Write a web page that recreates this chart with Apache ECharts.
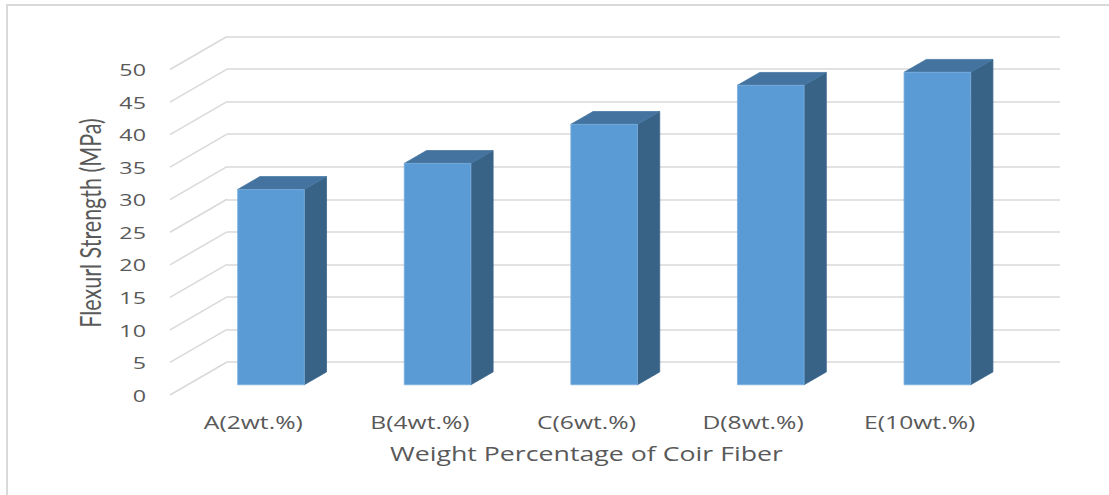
<!DOCTYPE html>
<html>
<head>
<meta charset="utf-8">
<script src="https://cdn.jsdelivr.net/npm/echarts@6/dist/echarts.min.js"></script>
<style>
  html, body { margin: 0; padding: 0; background: #ffffff; }
  #chart { width: 1109px; height: 495px; }
</style>
</head>
<body>
<div id="chart"></div>
<script>
// Flexural strength of coir-fibre composites by fibre content
const categories = ['A(2wt.%)', 'B(4wt.%)', 'C(6wt.%)', 'D(8wt.%)', 'E(10wt.%)'];
const flexuralStrength = [30, 34, 40, 46, 48];
const strengthTicks = [0, 5, 10, 15, 20, 25, 30, 35, 40, 45, 50];
const xAxisTitle = 'Weight Percentage of Coir Fiber';
const yAxisTitle = 'Flexurl Strength (MPa)';

// Oblique projection of the depth axis: back wall -> front edge of the floor
const DEPTH_DX = -57;
const DEPTH_DY = 33;
// depth positions (0 = back wall, 1 = front edge) of the column faces
const BAR_FRONT = 0.69;
const BAR_BACK = 0.30;
const BAR_WIDTH = 0.40;        // share of a category band
const TEXT_STRETCH = 1.37;     // wide lettering
const TEXT_COLOR = '#595959';
const GRID_COLOR = '#d9d9d9';
const FONT = '"Open Sans", "DejaVu Sans", sans-serif';

const GRID = { left: 227, right: 49, top: 36.5, bottom: 133 };

const chart = echarts.init(document.getElementById('chart'), null, { renderer: 'svg' });

// side wall: receding grid lines plus the value labels on the front edge
function renderSideWall(params, api) {
  const v = api.value(1);
  const y0 = api.coord([0, v])[1];
  const x0 = params.coordSys.x;
  return {
    type: 'group',
    children: [
      {
        type: 'line',
        shape: { x1: x0, y1: y0, x2: x0 + DEPTH_DX, y2: y0 + DEPTH_DY },
        style: { stroke: GRID_COLOR, lineWidth: 1.5 }
      },
      {
        type: 'text',
        x: x0 + DEPTH_DX - 24,
        y: y0 + DEPTH_DY,
        scaleX: TEXT_STRETCH,
        style: {
          text: String(v),
          align: 'right',
          verticalAlign: 'middle',
          fill: TEXT_COLOR,
          font: '17px ' + FONT
        }
      }
    ]
  };
}

// 3-D columns: front face, top face and right side face
function renderColumn(params, api) {
  const i = api.value(0);
  const v = api.value(1);
  const base = api.coord([i, 0]);
  const top = api.coord([i, v]);
  const band = api.size([1, 0])[0];
  const w = band * BAR_WIDTH;
  const fx = base[0] - w / 2 + DEPTH_DX * BAR_FRONT;
  const fyB = base[1] + DEPTH_DY * BAR_FRONT;
  const fyT = top[1] + DEPTH_DY * BAR_FRONT;
  const ddx = DEPTH_DX * (BAR_BACK - BAR_FRONT);
  const ddy = DEPTH_DY * (BAR_BACK - BAR_FRONT);
  return {
    type: 'group',
    children: [
      {
        type: 'polygon',
        shape: { points: [[fx + w, fyT], [fx + w + ddx, fyT + ddy], [fx + w + ddx, fyB + ddy], [fx + w, fyB]] },
        style: { fill: '#386286', stroke: '#3c678d', lineWidth: 0.8 }
      },
      {
        type: 'polygon',
        shape: { points: [[fx, fyT], [fx + w, fyT], [fx + w + ddx, fyT + ddy], [fx + ddx, fyT + ddy]] },
        style: { fill: '#44739f', stroke: '#4877a3', lineWidth: 0.8 }
      },
      {
        type: 'rect',
        shape: { x: fx, y: fyT, width: w, height: fyB - fyT },
        style: { fill: '#5b9bd5', stroke: '#7aaedd', lineWidth: 0.8 }
      },
      {
        type: 'text',
        x: base[0] + DEPTH_DX,
        y: base[1] + DEPTH_DY + 27,
        scaleX: TEXT_STRETCH,
        style: {
          text: categories[i],
          align: 'center',
          verticalAlign: 'middle',
          fill: TEXT_COLOR,
          font: '18px ' + FONT
        }
      }
    ]
  };
}

const plotWidth = 1109 - GRID.left - GRID.right;
const floorFrontY = 495 - GRID.bottom + DEPTH_DY;

chart.setOption({
  animation: false,
  backgroundColor: '#ffffff',
  grid: GRID,
  xAxis: {
    type: 'category',
    data: categories,
    boundaryGap: true,
    axisLine: { show: false },
    axisTick: { show: false },
    axisLabel: { show: false }
  },
  yAxis: {
    type: 'value',
    min: 0,
    max: 50,
    interval: 5,
    axisLine: { show: false },
    axisTick: { show: false },
    axisLabel: { show: false },
    splitLine: { show: true, lineStyle: { color: GRID_COLOR, width: 1.5 } }
  },
  graphic: [
    {
      type: 'rect',
      x: 7, y: 5,
      shape: { width: 1110, height: 500 },
      style: { fill: 'none', stroke: GRID_COLOR, lineWidth: 2 },
      silent: true
    },
    {
      type: 'text',
      x: GRID.left + plotWidth / 2 + DEPTH_DX,
      y: floorFrontY + 58,
      scaleX: TEXT_STRETCH,
      style: {
        text: xAxisTitle,
        align: 'center',
        verticalAlign: 'middle',
        fill: TEXT_COLOR,
        font: '19.5px ' + FONT
      },
      silent: true
    },
    {
      type: 'text',
      x: 90,
      y: 223,
      rotation: Math.PI / 2,
      scaleY: 1.3,
      style: {
        text: yAxisTitle,
        align: 'center',
        verticalAlign: 'middle',
        fill: TEXT_COLOR,
        font: '21.5px Lato, "Noto Sans", sans-serif'
      },
      silent: true
    }
  ],
  series: [
    {
      type: 'custom',
      name: 'wall',
      silent: true,
      clip: false,
      renderItem: renderSideWall,
      data: strengthTicks.map(v => [0, v]),
      z: 1
    },
    {
      type: 'custom',
      name: 'Flexural strength',
      silent: true,
      clip: false,
      renderItem: renderColumn,
      data: flexuralStrength.map((v, i) => [i, v]),
      z: 2
    }
  ]
});
</script>
</body>
</html>
